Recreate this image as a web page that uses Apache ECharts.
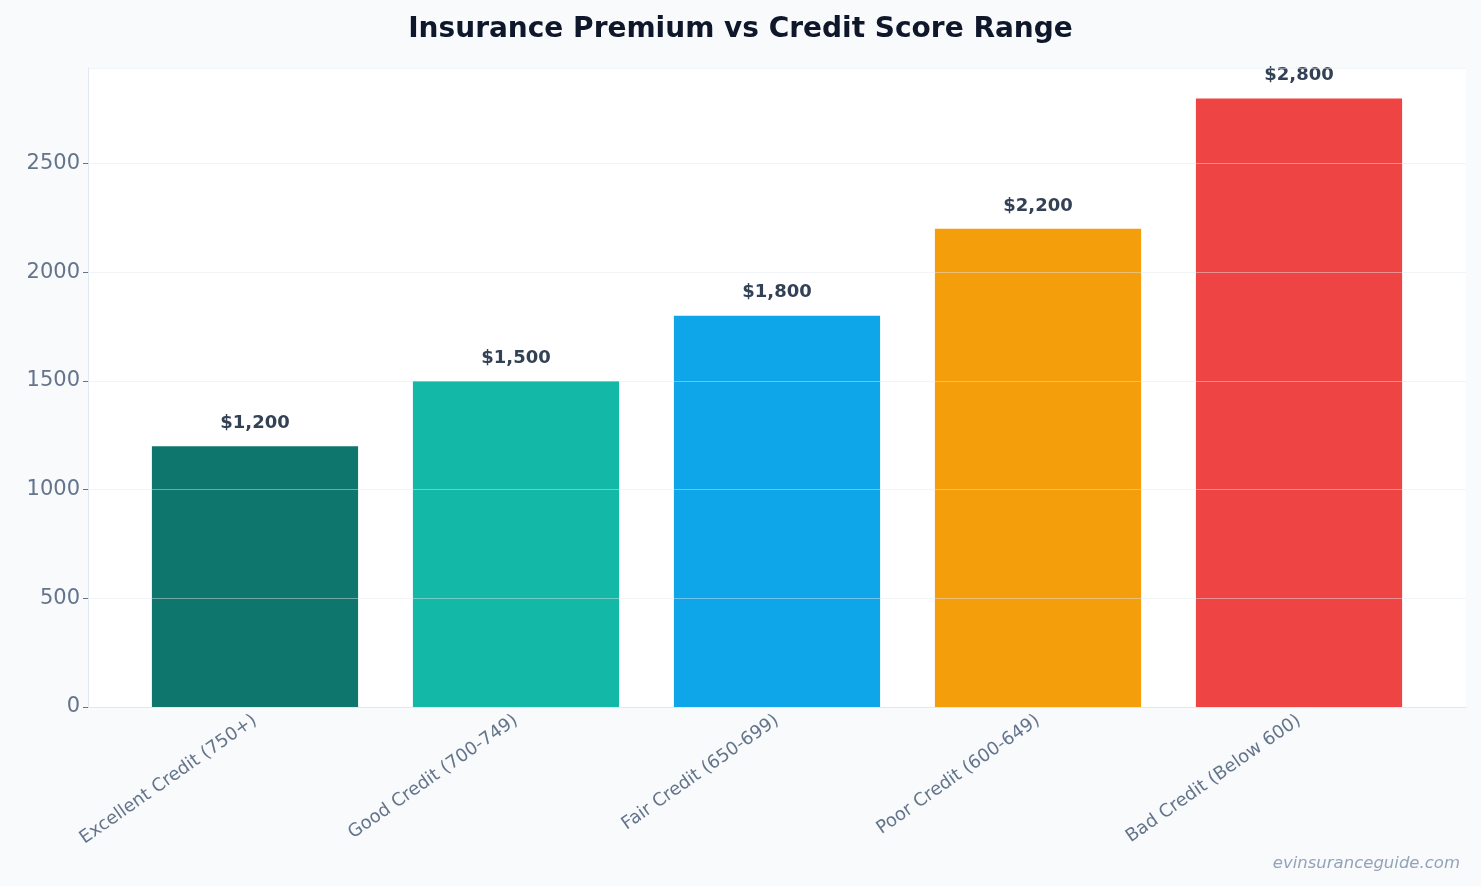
<!DOCTYPE html>
<html><head><meta charset="utf-8">
<script src="https://cdn.jsdelivr.net/npm/echarts@6/dist/echarts.min.js"></script>
<style>html,body{margin:0;background:#f8fafc}#c{width:1481px;height:886px}</style>
</head><body><div id="c"></div>
<script>
const categories = ["Excellent Credit (750+)", "Good Credit (700-749)", "Fair Credit (650-699)", "Poor Credit (600-649)", "Bad Credit (Below 600)"];
const premiums = [1200, 1500, 1800, 2200, 2800];
const colors = ["#0f766e", "#14b8a6", "#0ea5e9", "#f59e0b", "#ef4444"];
const yTicks = { min: 0, max: 2940, interval: 500 };
const chart = echarts.init(document.getElementById('c'));
chart.setOption({
  backgroundColor: '#f8fafc',
  title: { text: 'Insurance Premium vs Credit Score Range', left: 'center', top: 11,
    textStyle: { fontFamily: 'DejaVu Sans', fontSize: 28, fontWeight: 'bold', color: '#0f172a' } },
  graphic: [{ type: 'text', right: 21, bottom: 14, style: { text: 'evinsuranceguide.com', fontFamily: 'DejaVu Sans', fontStyle: 'italic', fontSize: 16.5, fill: '#94a3b8' } }],
  grid: [
    { left: 88, right: 15, top: 68, bottom: 179, show: true, backgroundColor: '#ffffff', borderWidth: 0 },
    { left: 124.5, right: 51.5, top: 68, bottom: 179 }
  ],
  xAxis: [
    { type: 'category', gridIndex: 0, data: [''], axisLine: { lineStyle: { color: '#e2e8f0' } }, axisTick: { show: false }, axisLabel: { show: false } },
    { type: 'category', gridIndex: 1, data: categories,
      axisLine: { show: false },
      axisTick: { alignWithLabel: true, length: 5, lineStyle: { color: '#64748b' } },
      axisLabel: { rotate: 35, fontFamily: 'DejaVu Sans', fontSize: 18, color: '#64748b', interval: 0, margin: 12 } }
  ],
  yAxis: [
    { type: 'value', gridIndex: 0, ...yTicks, z: 5,
      axisLine: { show: true, lineStyle: { color: '#e2e8f0' } },
      axisTick: { show: true, lineStyle: { color: '#64748b' } },
      axisLabel: { fontFamily: 'DejaVu Sans', fontSize: 21, color: '#64748b', showMaxLabel: false, formatter: v => String(v) },
      splitLine: { lineStyle: { color: 'rgba(226,232,240,0.45)' } } },
    { type: 'value', gridIndex: 1, ...yTicks, show: false }
  ],
  series: [{ type: 'bar', xAxisIndex: 1, yAxisIndex: 1, barWidth: '79%',
    data: premiums.map((v, i) => ({ value: v, itemStyle: { color: colors[i] } })),
    label: { show: true, position: 'top', distance: 14, fontFamily: 'DejaVu Sans', fontSize: 18, fontWeight: 'bold', color: '#334155',
      formatter: p => '$' + p.value.toLocaleString('en-US') } }]
});
</script></body></html>
